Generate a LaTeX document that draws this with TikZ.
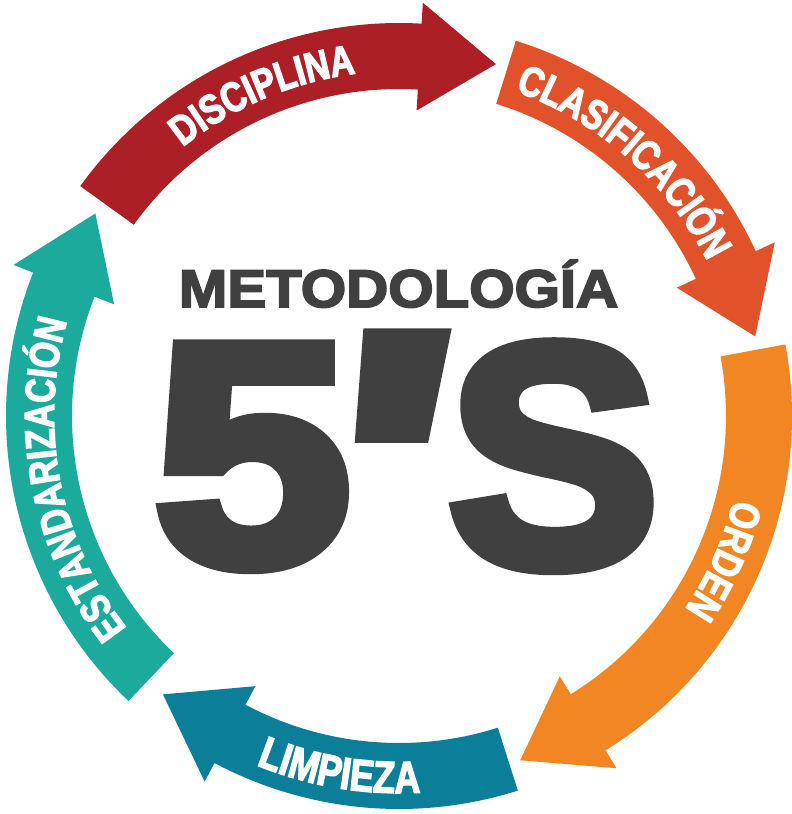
\documentclass[tikz,border=0pt]{standalone}
\usepackage{fontspec}
\usepackage{graphicx}
\usetikzlibrary{decorations.text}
\newfontfamily\arcfont[BoldFeatures={FakeStretch=0.8,FakeBold=3}]{Liberation Sans}
\newfontfamily\metfont[BoldFeatures={FakeStretch=1.1,FakeBold=3.5}]{Liberation Sans}
\newfontfamily\bigfont[BoldFeatures={FakeBold=4.5}]{Liberation Sans}
\newfontfamily\aposfont[Ligatures=TeXOff,BoldFeatures={FakeBold=4.5}]{Liberation Sans}
\definecolor{cDis}{HTML}{AD1F26}
\definecolor{cCla}{HTML}{E2522A}
\definecolor{cOrd}{HTML}{F28622}
\definecolor{cLim}{HTML}{0B7F9A}
\definecolor{cEst}{HTML}{1BAA9C}
\definecolor{cTxt}{HTML}{404040}
\tikzset{
  arctext/.style 2 args={decorate, decoration={text along path, text align=center,
      text={|\fontsize{#1}{#1}\selectfont\arcfont\bfseries\color{white}|#2}}},
  bigtext/.style={anchor=base, inner sep=0pt, text=cTxt}
}
\newcommand\cyclearrow[4]{%
  \fill[#1] (#2:393) arc[start angle=#2, end angle=#3, radius=393pt]
    -- (#3:414) -- (#4:365) -- (#3:306) -- (#3:327)
    arc[start angle=#3, end angle=#2, radius=327pt] -- cycle;}
\begin{document}
\begin{tikzpicture}[x=1pt,y=1pt]
\fill[white] (-399,-398) rectangle (393,416);
\useasboundingbox (-399,-398) rectangle (393,416);
% arrows
\cyclearrow{cDis}{144.2}{86.7}{74.6}
\cyclearrow{cCla}{72.7}{24.8}{12.6}
\cyclearrow{cOrd}{10.5}{-58.3}{-70.6}
\cyclearrow{cLim}{-72.4}{-118.0}{-130.3}
\cyclearrow{cEst}{-133.5}{-201.4}{-213.7}
% labels along arrows
\path[arctext={42}{DISCIPLINA}] (153:345) arc[start angle=153, end angle=73, radius=345pt];
\path[arctext={42}{CLASIFICACIÓN}] (88.5:345) arc[start angle=88.5, end angle=8.5, radius=345pt];
\path[arctext={42}{ORDEN}] (16:345) arc[start angle=16, end angle=-64, radius=345pt];
\path[arctext={45}{LIMPIEZA}] (-139.5:377) arc[start angle=-139.5, end angle=-59.5, radius=377pt];
\path[arctext={42}{ESTANDARIZACIÓN}] (236:345) arc[start angle=236, end angle=146, radius=345pt];
% centre title
\node[bigtext] (met) at (-0.5,109) {\fontsize{53}{53}\selectfont\metfont\bfseries METODOLOGÍA};
\node[bigtext] (five) at (-146.5,-148) {\fontsize{316}{316}\selectfont\bigfont\bfseries\scalebox{1.12}[1]{5}};
\node[inner sep=0pt, text=cTxt, anchor=north, xslant=0.14] (apos) at (7,79) {\fontsize{316}{316}\selectfont\aposfont\bfseries\scalebox{1.55}[1.23]{\textquotesingle}};
\node[bigtext] (ess) at (154.5,-149) {\fontsize{316}{316}\selectfont\bigfont\bfseries S};
\end{tikzpicture}
\end{document}
